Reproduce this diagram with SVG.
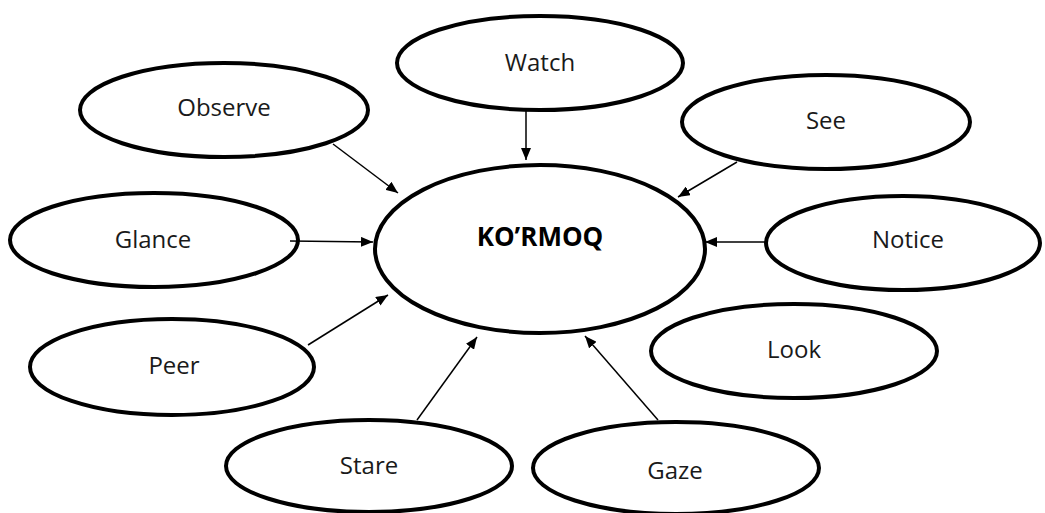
<svg xmlns="http://www.w3.org/2000/svg" width="1045" height="513" viewBox="0 0 1045 513">
<style>
.n{fill:#fff;stroke:#000;stroke-width:4}
.t{font-family:"Open Sans","Liberation Sans",sans-serif;font-size:24px;fill:#1a1a1a;text-anchor:middle}
.b{font-weight:bold;font-size:26px;fill:#000}
.c line{stroke:#000;stroke-width:1.5;marker-end:url(#ah)}
</style>
<defs>
<marker id="ah" viewBox="0 0 12 10" refX="12" refY="5" markerWidth="12" markerHeight="10" markerUnits="userSpaceOnUse" orient="auto">
<path d="M0,0 L12,5 L0,10 Z" fill="#000"/>
</marker>
</defs>
<rect width="1045" height="513" fill="#fff"/>
<g id="center"><ellipse class="n" cx="540" cy="249" rx="165" ry="84"/><text class="t b" x="540" y="246">KO’RMOQ</text></g>
<g id="watch"><ellipse class="n" cx="540" cy="63" rx="143" ry="47"/><text class="t" x="540" y="71">Watch</text></g>
<g id="observe"><ellipse class="n" cx="224" cy="110" rx="144" ry="47"/><text class="t" x="224" y="116">Observe</text></g>
<g id="see"><ellipse class="n" cx="826" cy="122" rx="144" ry="47"/><text class="t" x="826" y="129">See</text></g>
<g id="glance"><ellipse class="n" cx="154" cy="240" rx="144" ry="47"/><text class="t" x="153" y="248">Glance</text></g>
<g id="notice"><ellipse class="n" cx="903" cy="243" rx="137" ry="47"/><text class="t" x="908" y="248">Notice</text></g>
<g id="peer"><ellipse class="n" cx="172" cy="367" rx="142" ry="48"/><text class="t" x="174" y="374">Peer</text></g>
<g id="look"><ellipse class="n" cx="794" cy="351" rx="143" ry="47"/><text class="t" x="794" y="358">Look</text></g>
<g id="stare"><ellipse class="n" cx="369" cy="466" rx="143" ry="46"/><text class="t" x="369" y="474">Stare</text></g>
<g id="gaze"><ellipse class="n" cx="676" cy="468" rx="143" ry="46"/><text class="t" x="675" y="479">Gaze</text></g>
<g id="connectors" class="c">
<line x1="526" y1="110" x2="526" y2="160"/>
<line x1="333" y1="144" x2="398" y2="193"/>
<line x1="737" y1="162" x2="678" y2="197"/>
<line x1="290" y1="241" x2="373" y2="242"/>
<line x1="766" y1="242" x2="705" y2="242"/>
<line x1="308" y1="345" x2="388" y2="295"/>
<line x1="417" y1="420" x2="477" y2="337"/>
<line x1="658" y1="420" x2="585" y2="336"/>
</g>
</svg>
